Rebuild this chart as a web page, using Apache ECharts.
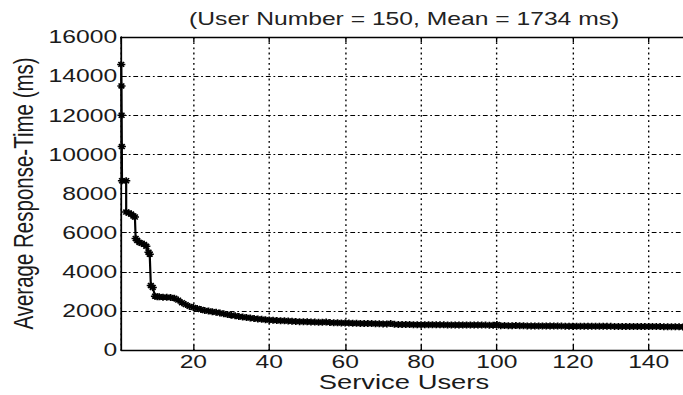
<!DOCTYPE html>
<html>
<head>
<meta charset="utf-8">
<script src="https://cdn.jsdelivr.net/npm/echarts@6/dist/echarts.min.js"></script>
<style>
html,body{margin:0;padding:0;width:683px;height:395px;overflow:hidden;background:#fff}
#c{width:504px;height:395px;transform:scaleX(1.37);transform-origin:0 0}
</style>
</head>
<body>
<div id="c"></div>
<script>
// ---- data ----
const titleText = '(User Number = 150, Mean = 1734 ms)';
const xAxisName = 'Service Users';
const yAxisName = 'Average Response-Time (ms)';

const users = [
  1, 1.05, 1.1, 1.15, 1.2, 2.3, 2.3, 3, 3.6, 4.2, 4.6, 4.8, 5.2, 5.8, 6.4, 7, 7.6, 8.2, 8.5, 8.8, 9.3, 9.9, 10.5,
  11, 12, 13, 14, 15, 16, 17, 18, 19, 20,
  21, 22, 23, 24, 25, 26, 27, 28, 29, 30,
  31, 32, 33, 34, 35, 36, 37, 38, 39, 40,
  41, 42, 43, 44, 45, 46, 47, 48, 49, 50,
  51, 52, 53, 54, 55, 56, 57, 58, 59, 60,
  61, 62, 63, 64, 65, 66, 67, 68, 69, 70,
  71, 72, 73, 74, 75, 76, 77, 78, 79, 80,
  81, 82, 83, 84, 85, 86, 87, 88, 89, 90,
  91, 92, 93, 94, 95, 96, 97, 98, 99, 100,
  101, 102, 103, 104, 105, 106, 107, 108, 109, 110,
  111, 112, 113, 114, 115, 116, 117, 118, 119, 120,
  121, 122, 123, 124, 125, 126, 127, 128, 129, 130,
  131, 132, 133, 134, 135, 136, 137, 138, 139, 140,
  141, 142, 143, 144, 145, 146, 147, 148, 149, 150
];

const responseTime = [
  14600, 13500, 12000, 10400, 8650, 8650, 7050, 7000, 6950, 6850, 6800, 5700, 5600, 5500, 5450, 5400, 5300, 5000, 4900, 3300, 3200, 2750, 2720,
  2720, 2700, 2700, 2680, 2650, 2550, 2420, 2320, 2230, 2170,
  2120, 2070, 2020, 1990, 1960, 1930, 1890, 1850, 1810, 1780,
  1750, 1710, 1690, 1660, 1640, 1610, 1590, 1570, 1550, 1530,
  1520, 1510, 1500, 1490, 1480, 1470, 1460, 1450, 1445, 1440,
  1430, 1425, 1420, 1415, 1430, 1400, 1395, 1390, 1385, 1380,
  1375, 1370, 1365, 1360, 1355, 1350, 1350, 1345, 1340, 1335,
  1330, 1350, 1310, 1305, 1300, 1300, 1298, 1295, 1295, 1292,
  1290, 1290, 1288, 1287, 1285, 1285, 1283, 1282, 1280, 1280,
  1278, 1277, 1276, 1275, 1274, 1273, 1272, 1271, 1270, 1300,
  1245, 1250, 1245, 1240, 1250, 1238, 1235, 1233, 1232, 1230,
  1229, 1228, 1226, 1225, 1224, 1222, 1221, 1220, 1219, 1218,
  1217, 1216, 1215, 1214, 1213, 1212, 1211, 1210, 1209, 1208,
  1207, 1206, 1205, 1204, 1203, 1202, 1201, 1200, 1199, 1198,
  1197, 1196, 1195, 1194, 1193, 1192, 1191, 1190, 1180, 1060
];

const xMin = 1, xMax = 150;
const yMin = 0, yMax = 16000, yStep = 2000;

// ---- chart ----
const FONT = "'Liberation Sans', Arial, Helvetica, sans-serif";
const TXT = '#1a1a1a';
const chart = echarts.init(document.getElementById('c'), null, {renderer: 'svg'});

const points = users.map((u, i) => [u, responseTime[i]]);

const option = {
  animation: false,
  backgroundColor: '#fff',
  title: {
    text: titleText,
    left: 295,
    top: 10,
    padding: 0,
    textAlign: 'center',
    textStyle: {fontFamily: FONT, fontSize: 18, fontWeight: 'normal', color: '#222'}
  },
  grid: {left: 88.5, right: 2.8, top: 37, bottom: 45, containLabel: false, outerBoundsMode: 'none'},
  xAxis: [{
    type: 'value',
    min: xMin,
    max: xMax,
    splitNumber: 7,
    name: xAxisName,
    nameLocation: 'middle',
    nameGap: 22,
    nameMoveOverlap: false,
    nameTextStyle: {fontFamily: FONT, fontSize: 20, color: TXT, lineHeight: 20},
    axisLine: {show: true, lineStyle: {color: '#000', width: 1.3}},
    axisTick: {show: true, inside: true, length: 5, lineStyle: {color: '#000', width: 1}},
    axisLabel: {show: true, showMinLabel: false, showMaxLabel: false, margin: 4, lineHeight: 16, fontFamily: FONT, fontSize: 18, color: TXT},
    splitLine: {show: true, lineStyle: {color: '#000', width: 1, type: [1.8, 3.4]}}
  }, {
    type: 'value',
    position: 'top',
    min: xMin,
    max: xMax,
    splitNumber: 7,
    axisLine: {show: true, lineStyle: {color: '#000', width: 1.3}},
    axisTick: {show: true, inside: true, length: 5, lineStyle: {color: '#000', width: 1}},
    axisLabel: {show: false},
    splitLine: {show: false}
  }],
  yAxis: {
    type: 'value',
    min: yMin,
    max: yMax,
    interval: yStep,
    name: yAxisName,
    nameLocation: 'middle',
    nameGap: 61,
    nameMoveOverlap: false,
    nameRotate: 90,
    nameTextStyle: {fontFamily: FONT, fontSize: 20.5, color: TXT},
    axisLine: {show: true, lineStyle: {color: '#000', width: 1.3}},
    axisTick: {show: true, inside: true, length: 4, lineStyle: {color: '#000', width: 1}},
    axisLabel: {margin: 3, fontFamily: FONT, fontSize: 18, color: TXT, formatter: v => String(v)},
    splitLine: {show: true, lineStyle: {color: '#000', width: 1, type: [3.5, 2, 1.3, 2]}}
  },
  series: [{
    type: 'line',
    xAxisIndex: 0,
    data: points,
    showSymbol: true,
    showAllSymbol: true,
    symbol: 'path://M0,5L10,5M5,0L5,10M1.5,1.5L8.5,8.5M8.5,1.5L1.5,8.5',
    symbolSize: [6, 7],
    itemStyle: {color: '#000', borderColor: '#000', borderWidth: 1.4},
    lineStyle: {color: '#000', width: 1.6},
    emphasis: {disabled: true},
    silent: true
  }]
};
chart.setOption(option);
</script>
</body>
</html>
